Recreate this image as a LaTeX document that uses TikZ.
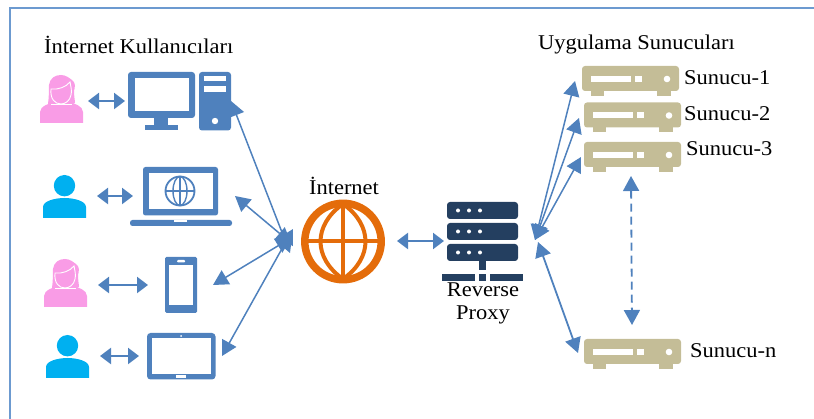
\documentclass[tikz,border=0pt]{standalone}
\usepackage{fontspec}
\setmainfont{Liberation Serif}[FakeStretch=1.07]
\usetikzlibrary{arrows.meta}
\definecolor{iconblue}{HTML}{4F81BD}
\definecolor{framec}{HTML}{6C9AD0}
\definecolor{pinkc}{HTML}{F99CE6}
\definecolor{cyanc}{HTML}{00B0F0}
\definecolor{orangec}{HTML}{E46C0A}
\definecolor{tanc}{HTML}{C4BD97}
\definecolor{navyc}{HTML}{243F60}
\tikzset{
  lbl/.style={inner sep=0pt,font=\fontsize{21}{24}\selectfont,text=black},
  thick link/.style={draw=iconblue,line width=2.4pt,{Triangle[length=11pt,width=16pt]}-{Triangle[length=11pt,width=16pt]}},
  thin link/.style={draw=iconblue,line width=1.5pt,{Triangle[length=15pt,width=16pt]}-{Triangle[length=15pt,width=16pt]}},
  dash link/.style={thin link,line width=1.8pt,dash pattern=on 8pt off 5pt},
  iconfill/.style={fill=iconblue,draw=none},
  hole/.style={fill=white,draw=none},
}
\newcommand{\womanicon}[2]{\begin{scope}[shift={(#1,#2)}]
  \fill[pinkc] (0,48) -- (0,37) .. controls (0,31) and (10,28) .. (15,27) -- (28,27) .. controls (34,28) and (43,31) .. (43,37) -- (43,48) -- cycle;
  \fill[pinkc] (8,29) .. controls (9,22) and (9,14) .. (9,10) .. controls (10,3) and (15,0) .. (21,0) .. controls (26,0) and (29,3) .. (32,5) .. controls (36,8) and (35,12) .. (34,16) .. controls (34,21) and (35,26) .. (35,28) .. controls (30,31) and (12,31) .. (8,29) -- cycle;
  \draw[white,line width=.9pt] (11,14) .. controls (18,15) and (26,12) .. (30,7) .. controls (31,12) and (32,16) .. (31,20) .. controls (30,26) and (25,29) .. (21,29) .. controls (15,29) and (10,24) .. (11,14) -- cycle;
  \draw[white,line width=.9pt] (11,29.5) -- (32,29.5);
\end{scope}}
\newcommand{\manicon}[2]{\begin{scope}[shift={(#1,#2)}]
  \fill[cyanc] (21.5,10.7) circle (10.7);
  \fill[cyanc] (0,43) -- (0,32) .. controls (0,26) and (12,23) .. (21.5,23) .. controls (31,23) and (43,26) .. (43,32) -- (43,43) -- cycle;
\end{scope}}
\newcommand{\servericon}[2]{\begin{scope}[shift={(#1,#2)}]
  \fill[tanc] (9,22) rectangle (22,30);
  \fill[tanc] (75,22) rectangle (89,30);
  \fill[tanc,rounded corners=3pt] (0,0) rectangle (97,25);
  \fill[white] (9,10) rectangle (49,16);
  \fill[white] (53,10) rectangle (60,16);
  \fill[white] (85,13) circle (3.3);
\end{scope}}
\begin{document}
\begin{tikzpicture}[x=1pt,y=-1pt]
\useasboundingbox (0,0) rectangle (814,419);
\draw[framec,line width=2pt] (9.5,419) -- (9.5,8.5) -- (814,8.5);

% labels
\node[lbl,anchor=west] (usersT) at (44,45) {İnternet Kullanıcıları};
\node[lbl,anchor=west] (appsT) at (538,44) {Uygulama Sunucuları};
\node[lbl] (netT) at (344,186) {İnternet};
\node[lbl] (revT) at (483,290) {Reverse};
\node[lbl] (proT) at (483,315) {Proxy};
\node[lbl,anchor=west] (s1T) at (684,78) {Sunucu-1};
\node[lbl,anchor=west] (s2T) at (684,114) {Sunucu-2};
\node[lbl,anchor=west] (s3T) at (686,149) {Sunucu-3};
\node[lbl,anchor=west] (snT) at (690,351) {Sunucu-n};

% users
\womanicon{40}{75}
\manicon{43}{175}
\womanicon{44}{259}
\manicon{46}{335}

% desktop
\fill[iconfill,rounded corners=3pt] (128,72) rectangle (195,118);
\fill[hole] (135,78) rectangle (189,111);
\fill[iconfill] (154,118) rectangle (168,125);
\fill[iconfill] (145,125) rectangle (178,130.5);
\fill[iconfill,rounded corners=3pt] (199,72) rectangle (231,130.5);
\fill[hole] (204,76) rectangle (226,81.5);
\fill[hole] (204,86) rectangle (226,92.5);
\fill[hole] (215,121) circle (3.2);

% laptop
\fill[iconfill,rounded corners=2.5pt] (143,167) rectangle (218,215.5);
\fill[hole] (149,173) rectangle (213,209);
\draw[iconblue,line width=1.8pt] (180,191) circle (14.5);
\draw[iconblue,line width=1.4pt] (180,191) ellipse (7 and 14.5);
\draw[iconblue,line width=1.4pt] (180,176.5) -- (180,205.5) (165.5,191) -- (194.5,191);
\fill[iconfill,rounded corners=2.5pt] (130,220) -- (232,220) -- (232,226) -- (130,226) -- cycle;
\fill[hole] (174,220) rectangle (187,222.5);

% phone
\fill[iconfill,rounded corners=1.5pt] (165,257) rectangle (197,313);
\fill[hole] (169,265) rectangle (193,305.5);
\fill[hole,rounded corners=1pt] (177,260) rectangle (185,262.5);

% tablet
\fill[iconfill,rounded corners=3.5pt] (147,333) rectangle (215.5,379.5);
\fill[hole] (152,338.5) rectangle (210.5,374);
\fill[hole] (181,336) circle (1);
\fill[hole] (176,375.5) rectangle (186,378);

% globe
\draw[orangec,line width=7.5pt] (343,241.5) circle (38.2);
\draw[orangec,line width=4pt] (343,204) -- (343,279) (305,241.5) -- (381,241.5);
\draw[orangec,line width=4pt] (343,204) .. controls (313,225) and (313,258) .. (343,279) .. controls (373,258) and (373,225) .. (343,204) -- cycle;

% proxy
\foreach \y in {202,223,244} {
  \fill[navyc,rounded corners=3pt] (447,\y) rectangle (518,\y+17);
  \foreach \x in {458,469,480} \fill[white] (\x,\y+8.5) circle (2);
}
\fill[navyc] (479,261) rectangle (486,270);
\fill[navyc] (442,274) rectangle (475,281);
\fill[navyc] (479,274) rectangle (486,281);
\fill[navyc] (490,274) rectangle (523,281);

% servers
\servericon{582}{66}
\servericon{584}{102.5}
\servericon{584}{142}
\servericon{584}{339}

% connector ends
\coordinate (u1) at (88,101); \coordinate (pc) at (125,101);
\coordinate (u2) at (97,196); \coordinate (lap) at (133,196);
\coordinate (u3) at (98,285); \coordinate (pho) at (148,285);
\coordinate (u4) at (100,356); \coordinate (tab) at (139,356);
\coordinate (pcE) at (231,101); \coordinate (hubA) at (290,253);
\coordinate (lapE) at (235,196); \coordinate (hubB) at (291,243);
\coordinate (phoE) at (213,285); \coordinate (hubC) at (291,238);
\coordinate (tabE) at (222,356); \coordinate (hubD) at (293,229);
\coordinate (netE) at (397,241); \coordinate (proxW) at (444,241);
\coordinate (hubR) at (535,240); \coordinate (hubS) at (538,242);
\coordinate (srv1) at (575,81); \coordinate (srv2) at (579,118);
\coordinate (srv3) at (581,157); \coordinate (srvn) at (578,353);
\coordinate (dashT) at (631,176); \coordinate (dashB) at (632,325);

\draw[thick link] (u1) -- (pc);
\draw[thick link] (u2) -- (lap);
\draw[thick link] (u3) -- (pho);
\draw[thick link] (u4) -- (tab);
\draw[thick link] (netE) -- (proxW);
\draw[thin link] (pcE) -- (hubA);
\draw[thin link] (lapE) -- (hubB);
\draw[thin link] (phoE) -- (hubC);
\draw[thin link] (tabE) -- (hubD);
\draw[thin link] (hubR) -- (srv1);
\draw[thin link] (hubR) -- (srv2);
\draw[thin link] (hubR) -- (srv3);
\draw[thin link,line width=1.8pt] (hubS) -- (srvn);
\draw[dash link] (dashT) -- (dashB);
\end{tikzpicture}
\end{document}
